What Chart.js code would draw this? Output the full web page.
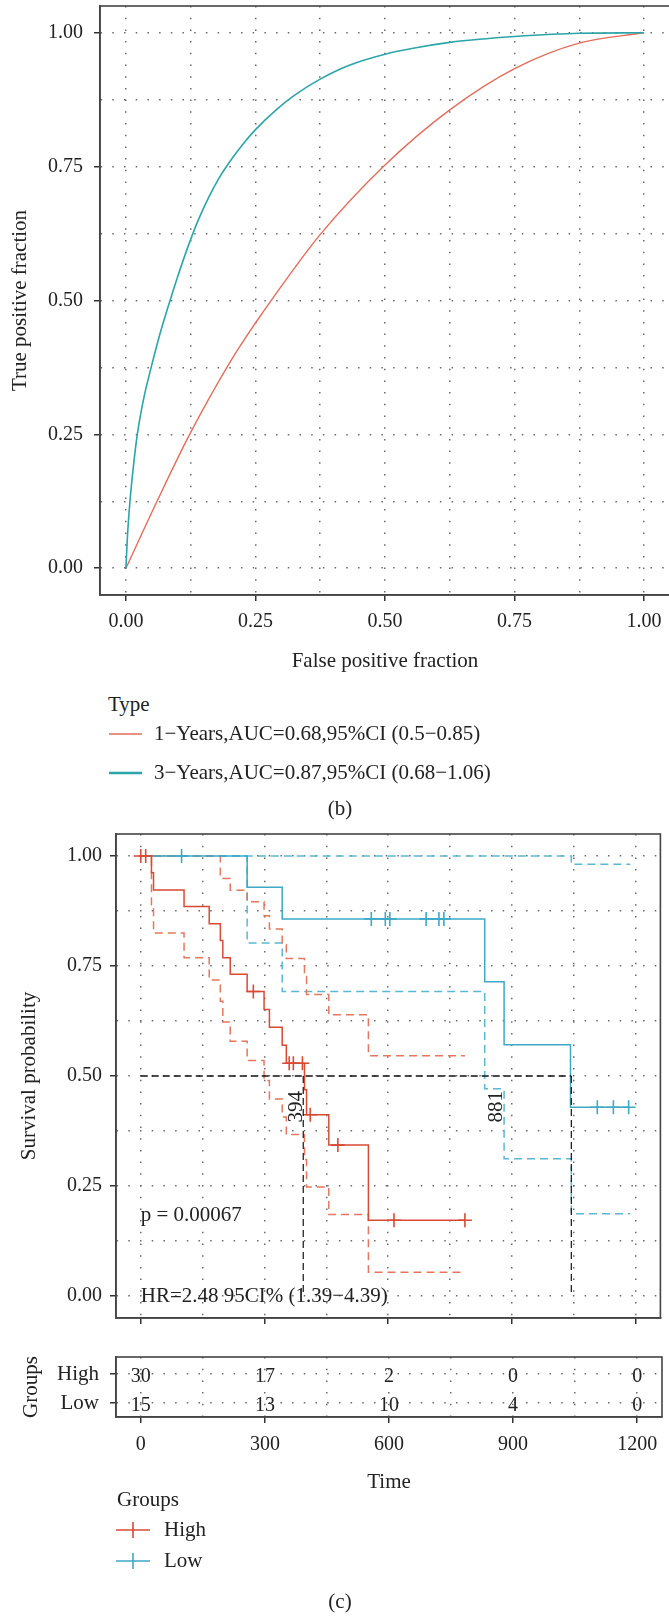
<!DOCTYPE html>
<html>
<head>
<meta charset="utf-8">
<script src="https://cdn.jsdelivr.net/npm/chart.js@4.4.0/dist/chart.umd.min.js"></script>
<style>
  html, body { margin: 0; padding: 0; background: #fff; }
  #page { position: relative; width: 669px; height: 1617px; overflow: hidden;
          font-family: "Liberation Serif", "Times New Roman", serif; color: #222; }
  canvas { position: absolute; left: 0; }
  .t { position: absolute; font-size: 21px; line-height: 21px; white-space: nowrap; }
  svg { position: absolute; left: 0; overflow: visible; }
</style>
</head>
<body>
<div id="page">
  <canvas id="roc" width="700" height="680" style="top:0;width:700px;height:680px"></canvas>

  <div class="t" style="left:108px;top:694px">Type</div>
  <svg style="top:0" width="669" height="820">
    <line x1="109" y1="734" x2="142" y2="734" stroke="#E36C5B" stroke-width="1.6"/>
    <line x1="109" y1="773" x2="142" y2="773" stroke="#2BA5A8" stroke-width="2.4"/>
  </svg>
  <div class="t" style="left:154px;top:723px">1−Years,AUC=0.68,95%CI (0.5−0.85)</div>
  <div class="t" style="left:154px;top:762px">3−Years,AUC=0.87,95%CI (0.68−1.06)</div>
  <div class="t" style="left:290px;width:100px;text-align:center;top:798px">(b)</div>

  <canvas id="km" width="669" height="510" style="top:820px;width:669px;height:510px"></canvas>
  <canvas id="risk" width="669" height="160" style="top:1340px;width:669px;height:160px"></canvas>

  <div class="t" style="left:117px;top:1489px">Groups</div>
  <svg style="top:0" width="669" height="1617">
    <line x1="116" y1="1530" x2="150" y2="1530" stroke="#D94A35" stroke-width="1.6"/>
    <line x1="133" y1="1522" x2="133" y2="1538" stroke="#D94A35" stroke-width="1.6"/>
    <line x1="116" y1="1561" x2="150" y2="1561" stroke="#3DA9C6" stroke-width="1.6"/>
    <line x1="133" y1="1553" x2="133" y2="1569" stroke="#3DA9C6" stroke-width="1.6"/>
  </svg>
  <div class="t" style="left:164px;top:1519px">High</div>
  <div class="t" style="left:164px;top:1550px">Low</div>
  <div class="t" style="left:290px;width:100px;text-align:center;top:1591px">(c)</div>
</div>

<script>
// ---- ROC curves (b)
const roc1Fpr = [0, 0.061, 0.123, 0.201, 0.25, 0.284, 0.374, 0.5, 0.625, 0.75, 0.876, 1];
const roc1Tpr = [0, 0.127, 0.25, 0.385, 0.458, 0.505, 0.622, 0.753, 0.856, 0.933, 0.981, 1];
const roc3Fpr = [0, 0.003, 0.008, 0.015, 0.022, 0.035, 0.049, 0.065, 0.082, 0.1, 0.123, 0.14, 0.16, 0.18,
                 0.201, 0.225, 0.251, 0.29, 0.325, 0.374, 0.43, 0.5, 0.56, 0.625, 0.69, 0.75, 0.875, 1];
const roc3Tpr = [0, 0.06, 0.127, 0.195, 0.25, 0.32, 0.376, 0.435, 0.49, 0.545, 0.609, 0.651, 0.693, 0.729,
                 0.76, 0.791, 0.82, 0.856, 0.883, 0.913, 0.939, 0.96, 0.972, 0.982, 0.9885, 0.993, 0.999, 1];
const rocTicks = [0, 0.125, 0.25, 0.375, 0.5, 0.625, 0.75, 0.875, 1];

// ---- Kaplan-Meier (c)
const highTime  = [0, 26, 31, 105, 166, 193, 199, 217, 258, 299, 312, 343, 353, 397, 402, 456, 552, 786];
const highSurv  = [1, 0.962, 0.923, 0.885, 0.846, 0.808, 0.769, 0.731, 0.692, 0.651, 0.611, 0.570, 0.529, 0.469, 0.412, 0.343, 0.172, 0.172];
const highUpT   = [0, 193, 217, 258, 299, 312, 343, 353, 397, 402, 456, 552, 786];
const highUpper = [1, 0.949, 0.922, 0.896, 0.864, 0.834, 0.799, 0.767, 0.726, 0.685, 0.639, 0.546, 0.546];
const highLoT   = [0, 26, 31, 105, 166, 193, 199, 217, 258, 299, 312, 343, 353, 397, 402, 456, 552, 786];
const highLower = [1, 0.889, 0.825, 0.769, 0.718, 0.67, 0.623, 0.579, 0.535, 0.49, 0.448, 0.407, 0.367, 0.31, 0.248, 0.185, 0.054, 0.054];
const highCensT = [0, 12, 273, 360, 370, 392, 411, 478, 614, 786];
const highCensS = [1, 1, 0.692, 0.529, 0.529, 0.529, 0.412, 0.343, 0.172, 0.172];

const lowTime  = [0, 258, 343, 834, 881, 1042, 1183];
const lowSurv  = [1, 0.929, 0.857, 0.714, 0.571, 0.429, 0.429];
const lowUpT   = [0, 1044, 1187];
const lowUpper = [1, 0.981, 0.981];
const lowLoT   = [0, 258, 343, 834, 881, 1044, 1187];
const lowLower = [1, 0.802, 0.692, 0.471, 0.312, 0.187, 0.187];
const lowCensT = [99, 559, 593, 604, 692, 723, 735, 1107, 1146, 1183];
const lowCensS = [1, 0.857, 0.857, 0.857, 0.857, 0.857, 0.857, 0.429, 0.429, 0.429];

const medianTimes = [394, 1044];
const medianLabels = ['394', '881'];
const kmTicks = [0, 150, 300, 450, 600, 750, 900, 1050, 1200];
const survTicks = [0, 0.125, 0.25, 0.375, 0.5, 0.625, 0.75, 0.875, 1];

// ---- number at risk
const riskTimes = [0, 300, 600, 900, 1200];
const riskHigh = [30, 17, 2, 0, 0];
const riskLow = [15, 13, 10, 4, 0];
const riskGroups = ['Low', 'High'];

const serif = '"Liberation Serif", "Times New Roman", serif';
Chart.defaults.font.family = serif;
Chart.defaults.font.size = 20;
Chart.defaults.color = '#222';
const titleFont = { family: serif, size: 21 };

const pts = (xs, ys) => xs.map((x, i) => ({ x: x, y: ys[i] }));
const fixedTicks = vals => s => { s.ticks = vals.map(v => ({ value: v })); };
// pin the axis box size and drop the label overflow padding so the plot area lands where it should
const fitY = w => s => { s.width = w; s.paddingTop = 0; s.paddingBottom = 0; };
const fitX = h => s => { s.height = h; s.paddingLeft = 0; s.paddingRight = 0; };

const gridOpts = {
  color: '#6a6a6a', lineWidth: 1.5,
  tickLength: 6, tickWidth: 1.5,
  tickColor: c => (c.index % 2 ? 'rgba(0,0,0,0)' : '#333'),
  tickBorderDash: []
};
const borderOpts = { color: '#444', width: 1.6, dash: [1.5, 10.2] };

const framePlugin = {
  id: 'frame',
  afterDraw(chart) {
    const { ctx, chartArea: a } = chart;
    ctx.save();
    ctx.strokeStyle = '#444';
    ctx.lineWidth = 1.6;
    ctx.strokeRect(a.left, a.top, a.right - a.left, a.bottom - a.top);
    ctx.restore();
  }
};

const notesPlugin = {
  id: 'notes',
  afterDatasetsDraw(chart, args, opts) {
    const { ctx, scales } = chart;
    (opts.items || []).forEach(n => {
      ctx.save();
      ctx.font = '21px ' + serif;
      ctx.fillStyle = '#222';
      ctx.textBaseline = 'middle';
      ctx.textAlign = n.align || 'left';
      ctx.translate(scales.x.getPixelForValue(n.x), scales.y.getPixelForValue(n.y));
      if (n.rotate) ctx.rotate(n.rotate);
      ctx.fillText(n.text, 0, 0);
      ctx.restore();
    });
  }
};

const riskPlugin = {
  id: 'riskNumbers',
  afterDatasetsDraw(chart) {
    const { ctx, scales: { x, y } } = chart;
    ctx.save();
    ctx.font = '20px ' + serif;
    ctx.fillStyle = '#222';
    ctx.textAlign = 'center';
    ctx.textBaseline = 'middle';
    riskTimes.forEach((t, i) => {
      ctx.fillText(String(riskHigh[i]), x.getPixelForValue(t), y.getPixelForValue(1) + 3);
      ctx.fillText(String(riskLow[i]), x.getPixelForValue(t), y.getPixelForValue(0) + 3);
    });
    ctx.restore();
  }
};

// ROC chart
new Chart(document.getElementById('roc'), {
  type: 'scatter',
  data: {
    datasets: [
      { data: pts(roc3Fpr, roc3Tpr), showLine: true, borderColor: '#2BA5A8', borderWidth: 1.6,
        pointRadius: 0, cubicInterpolationMode: 'monotone' },
      { data: pts(roc1Fpr, roc1Tpr), showLine: true, borderColor: '#E36C5B', borderWidth: 1.4,
        pointRadius: 0, cubicInterpolationMode: 'monotone' }
    ]
  },
  options: {
    responsive: false, animation: false, events: [], devicePixelRatio: 1,
    layout: { padding: { top: 6, right: 30, left: 0, bottom: 0 } },
    plugins: { legend: { display: false }, tooltip: { enabled: false } },
    scales: {
      x: {
        type: 'linear', min: -0.05, max: 1.05,
        afterBuildTicks: fixedTicks(rocTicks),
        afterFit: fitX(85),
        ticks: { autoSkip: false, maxRotation: 0, padding: 9,
                 callback: (v, i) => (i % 2 ? '' : v.toFixed(2)) },
        grid: gridOpts, border: borderOpts,
        title: { display: true, text: 'False positive fraction', font: titleFont, padding: { top: 0, bottom: 6 } }
      },
      y: {
        type: 'linear', min: -0.05, max: 1.05,
        afterBuildTicks: fixedTicks(rocTicks),
        afterFit: fitY(100),
        ticks: { autoSkip: false, padding: 11,
                 callback: (v, i) => (i % 2 ? '' : v.toFixed(2)) },
        grid: gridOpts, border: borderOpts,
        title: { display: true, text: 'True positive fraction', font: titleFont, padding: { top: 8, bottom: 0 } }
      }
    }
  },
  plugins: [framePlugin]
});

// Kaplan-Meier chart
const stepLine = (data, color, dash, width) => ({
  data: data, showLine: true, stepped: true, borderColor: color, borderWidth: width || 1.5,
  borderDash: dash || [], pointRadius: 0
});
const censor = (data, color) => ({
  data: data, showLine: false, pointStyle: 'cross', pointRadius: 7,
  borderColor: color, borderWidth: 1.6, pointBorderColor: color
});

new Chart(document.getElementById('km'), {
  type: 'scatter',
  data: {
    datasets: [
      { data: [{ x: 0, y: 0.5 }, { x: medianTimes[1], y: 0.5 }], showLine: true, borderColor: '#111',
        borderWidth: 1.5, borderDash: [7, 4], pointRadius: 0 },
      { data: [{ x: medianTimes[0], y: 0.5 }, { x: medianTimes[0], y: 0 }], showLine: true, borderColor: '#111',
        borderWidth: 1.2, borderDash: [7, 4], pointRadius: 0 },
      { data: [{ x: medianTimes[1], y: 0.5 }, { x: medianTimes[1], y: 0 }], showLine: true, borderColor: '#111',
        borderWidth: 1.2, borderDash: [7, 4], pointRadius: 0 },
      censor(pts(highCensT, highCensS), '#D94A35'),
      censor(pts(lowCensT, lowCensS), '#3DA9C6'),
      stepLine(pts(highTime, highSurv), '#D94A35'),
      stepLine(pts(lowTime, lowSurv), '#3DA9C6'),
      stepLine(pts(highUpT, highUpper), '#E5765F', [8, 5]),
      stepLine(pts(highLoT, highLower), '#E5765F', [8, 5]),
      stepLine(pts(lowUpT, lowUpper), '#5BB8D2', [8, 5]),
      stepLine(pts(lowLoT, lowLower), '#5BB8D2', [8, 5])
    ]
  },
  options: {
    responsive: false, animation: false, events: [], devicePixelRatio: 1,
    layout: { padding: { top: 14, right: 7, left: 0, bottom: 0 } },
    plugins: {
      legend: { display: false }, tooltip: { enabled: false },
      notes: { items: [
        { x: 0, y: 0.184, text: 'p = 0.00067' },
        { x: 0, y: 0.0, text: 'HR=2.48 95CI% (1.39−4.39)' },
        { x: 378, y: 0.43, text: medianLabels[0], align: 'center', rotate: -Math.PI / 2 },
        { x: 862, y: 0.43, text: medianLabels[1], align: 'center', rotate: -Math.PI / 2 }
      ] }
    },
    scales: {
      x: {
        type: 'linear', min: -60, max: 1260,
        afterBuildTicks: fixedTicks(kmTicks),
        afterFit: fitX(12),
        ticks: { autoSkip: false, maxRotation: 0, padding: 0, callback: () => '' },
        grid: gridOpts, border: borderOpts
      },
      y: {
        type: 'linear', min: -0.05, max: 1.05,
        afterBuildTicks: fixedTicks(survTicks),
        afterFit: fitY(116),
        ticks: { autoSkip: false, padding: 8,
                 callback: (v, i) => (i % 2 ? '' : v.toFixed(2)) },
        grid: gridOpts, border: borderOpts,
        title: { display: true, text: 'Survival probability', font: titleFont, padding: { top: 17, bottom: 0 } }
      }
    }
  },
  plugins: [framePlugin, notesPlugin]
});

// number-at-risk table
new Chart(document.getElementById('risk'), {
  type: 'scatter',
  data: { datasets: [] },
  options: {
    responsive: false, animation: false, events: [], devicePixelRatio: 1,
    layout: { padding: { top: 17, right: 7, left: 0, bottom: 0 } },
    plugins: { legend: { display: false }, tooltip: { enabled: false } },
    scales: {
      x: {
        type: 'linear', min: -60, max: 1260,
        afterBuildTicks: fixedTicks(kmTicks),
        afterFit: fitX(83),
        ticks: { autoSkip: false, maxRotation: 0, padding: 10,
                 callback: (v, i) => (i % 2 ? '' : String(v)) },
        grid: gridOpts, border: borderOpts,
        title: { display: true, text: 'Time', font: titleFont, padding: { top: 0, bottom: 5 } }
      },
      y: {
        type: 'linear', min: -0.483, max: 1.586,
        afterBuildTicks: fixedTicks([0, 1]),
        afterFit: fitY(116),
        ticks: { autoSkip: false, padding: 11, font: { family: serif, size: 21 }, callback: v => riskGroups[v] },
        grid: Object.assign({}, gridOpts, { tickColor: '#333' }), border: borderOpts,
        title: { display: true, text: 'Groups', font: titleFont, padding: { top: 19, bottom: 0 } }
      }
    }
  },
  plugins: [framePlugin, riskPlugin]
});
</script>
</body>
</html>
